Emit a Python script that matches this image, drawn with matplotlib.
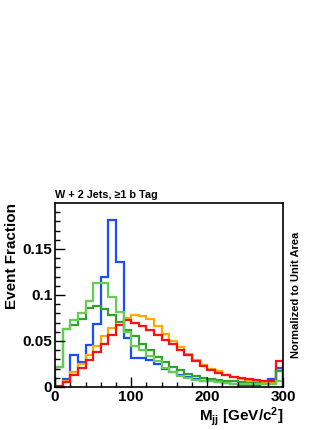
import matplotlib
matplotlib.use("Agg")
import matplotlib.pyplot as plt
import numpy as np

plt.rcParams['font.family'] = ['Liberation Sans', 'DejaVu Sans']
plt.rcParams['font.weight'] = 'bold'
plt.rcParams['mathtext.fontset'] = 'custom'
plt.rcParams['mathtext.rm'] = 'Liberation Sans:bold'
plt.rcParams['mathtext.it'] = 'Liberation Sans:bold'
plt.rcParams['mathtext.bf'] = 'Liberation Sans:bold'

# 10 GeV bins from 0 to 300
bin_edges = np.arange(0, 310, 10)

blue_vals = [0.000, 0.009, 0.035, 0.027, 0.046, 0.069, 0.120, 0.181, 0.136, 0.053,
             0.032, 0.031, 0.029, 0.025, 0.020, 0.016, 0.013, 0.011, 0.009, 0.007,
             0.006, 0.005, 0.004, 0.003, 0.002, 0.002, 0.002, 0.003, 0.009, 0.021]
orange_vals = [0.000, 0.007, 0.016, 0.025, 0.035, 0.045, 0.055, 0.064, 0.071, 0.075,
               0.078, 0.077, 0.074, 0.066, 0.058, 0.050, 0.043, 0.036, 0.029, 0.024,
               0.020, 0.017, 0.013, 0.011, 0.009, 0.007, 0.006, 0.005, 0.004, 0.018]
red_vals = [0.001, 0.005, 0.013, 0.021, 0.029, 0.038, 0.047, 0.057, 0.067, 0.073,
            0.070, 0.066, 0.062, 0.057, 0.051, 0.047, 0.040, 0.035, 0.028, 0.023,
            0.018, 0.015, 0.013, 0.011, 0.010, 0.009, 0.008, 0.007, 0.006, 0.028]
dkgreen_vals = [0.022, 0.063, 0.067, 0.074, 0.086, 0.088, 0.085, 0.078, 0.071, 0.062,
                0.055, 0.047, 0.040, 0.033, 0.027, 0.022, 0.018, 0.014, 0.012, 0.010,
                0.009, 0.008, 0.007, 0.006, 0.005, 0.004, 0.004, 0.003, 0.003, 0.017]
ltgreen_vals = [0.022, 0.063, 0.073, 0.080, 0.094, 0.113, 0.113, 0.098, 0.081, 0.060,
                0.045, 0.040, 0.034, 0.028, 0.021, 0.016, 0.012, 0.010, 0.008, 0.007,
                0.006, 0.005, 0.004, 0.003, 0.003, 0.003, 0.003, 0.003, 0.003, 0.007]

series = [
    (blue_vals, '#1a4dff'),
    (orange_vals, '#ffaa00'),
    (red_vals, '#ff1010'),
    (dkgreen_vals, '#33a033'),
    (ltgreen_vals, '#66cc55'),
]

fig = plt.figure(figsize=(3.32, 4.30), dpi=100)
ax = fig.add_axes([0.166, 0.1, 0.687, 0.428])

for vals, col in series:
    ax.stairs(vals, bin_edges, color=col, linewidth=1.6)

ax.set_xlim(0, 300)
ax.set_ylim(0, 0.2)
ax.set_xticks([0, 100, 200, 300])
ax.set_xticks(np.arange(0, 301, 20), minor=True)
ax.set_yticks([0, 0.05, 0.1, 0.15])
ax.set_yticklabels(['0', '0.05', '0.1', '0.15'])
ax.set_yticks(np.arange(0, 0.2, 0.01), minor=True)
ax.tick_params(which='both', direction='in', top=False, right=False, labelsize=11, pad=2)
ax.tick_params(which='major', length=7, width=1)
ax.tick_params(which='minor', length=3.5, width=1)
for sp in ax.spines.values():
    sp.set_linewidth(1.2)

ax.set_ylabel('Event Fraction', fontsize=11, fontweight='bold', loc='top')
ax.yaxis.set_label_coords(-0.158, 1.0)
ax.set_xlabel(r'M$_{jj}$ [GeV/c$^2$]', fontsize=11, fontweight='bold', loc='right', labelpad=1)

ax.text(0.0, 1.015, 'W + 2 Jets, ≥1 b Tag', transform=ax.transAxes,
        fontsize=7.8, fontweight='bold', ha='left', va='bottom')
fig.text(0.892, 0.314, 'Normalized to Unit Area', rotation=90, fontsize=8,
         fontweight='bold', ha='center', va='center')

fig.savefig('out.png', dpi=100)
